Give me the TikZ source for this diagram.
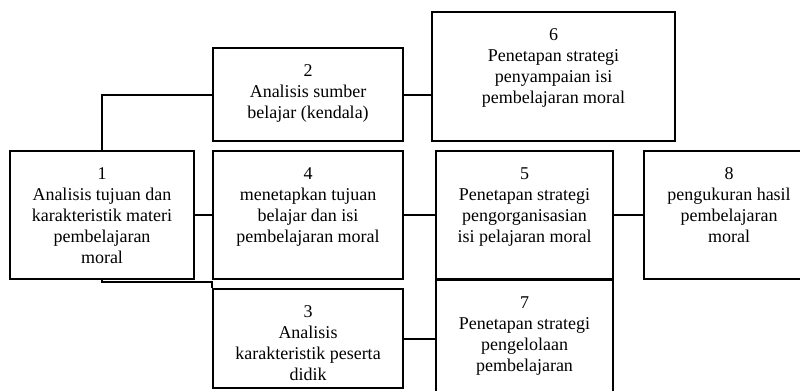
\documentclass[tikz,border=0pt]{standalone}
\usepackage{fontspec}
\setmainfont{Liberation Serif}
\usepackage{tikz}
\usetikzlibrary{positioning,calc}

% top-aligned text in a fixed-size box
\newcommand{\bx}[3]{\parbox[c][#2][t]{#1}{\centering\rule{0pt}{21pt}#3}}

\begin{document}
\begin{tikzpicture}[
    x=0.75pt, y=-0.75pt,
    font=\fontsize{13.5pt}{15.75pt}\selectfont,
    box/.style={draw, line width=1.5pt, inner sep=0pt},
    ln/.style={line width=1.5pt},
  ]
    \useasboundingbox (0,0) rectangle (800,390);
    \clip (0,0) rectangle (800,390);
    \node[box] (b1) at (102,215) {\bx{138pt}{96pt}{1\\Analisis tujuan dan\\karakteristik materi\\pembelajaran\\moral}};
    \node[box] (b2) at (308,94.5) {\bx{142.5pt}{69.75pt}{2\\Analisis sumber\\belajar (kendala)}};
    \node[box] (b4) at (308,215) {\bx{142.5pt}{96pt}{4\\menetapkan tujuan\\belajar dan isi\\pembelajaran moral}};
    \node[box] (b3) at (308,338.5) {\bx{142.5pt}{74.25pt}{3\\Analisis\\karakteristik peserta\\didik}};
    \node[box] (b6) at (553.5,76.5) {\bx{182.25pt}{96.75pt}{6\\Penetapan strategi\\penyampaian isi\\pembelajaran moral}};
    \node[box] (b5) at (524.5,215) {\bx{132.75pt}{96pt}{5\\Penetapan strategi\\pengorganisasian\\isi pelajaran moral}};
    \node[box] (b7) at (524.5,350) {\bx{132.75pt}{105pt}{7\\Penetapan strategi\\pengelolaan\\pembelajaran}};
    \node[box] (b8) at (729,215) {\bx{127.5pt}{96pt}{8\\pengukuran hasil\\pembelajaran\\moral}};
    \draw[ln] (b1.north) |- (b2.west);
    \draw[ln] (b1.east) -- (b4.west);
    \draw[ln] (b1.south) -- ++(0,2) -| (b3.north west);
    \draw[ln] (b2.east) -- (b2.east -| b6.west);
    \draw[ln] (b4.east) -- (b5.west);
    \draw[ln] (b5.east) -- (b8.west);
    \draw[ln] (b3.east) -- (b3.east -| b7.west);
  \end{tikzpicture}
\end{document}
